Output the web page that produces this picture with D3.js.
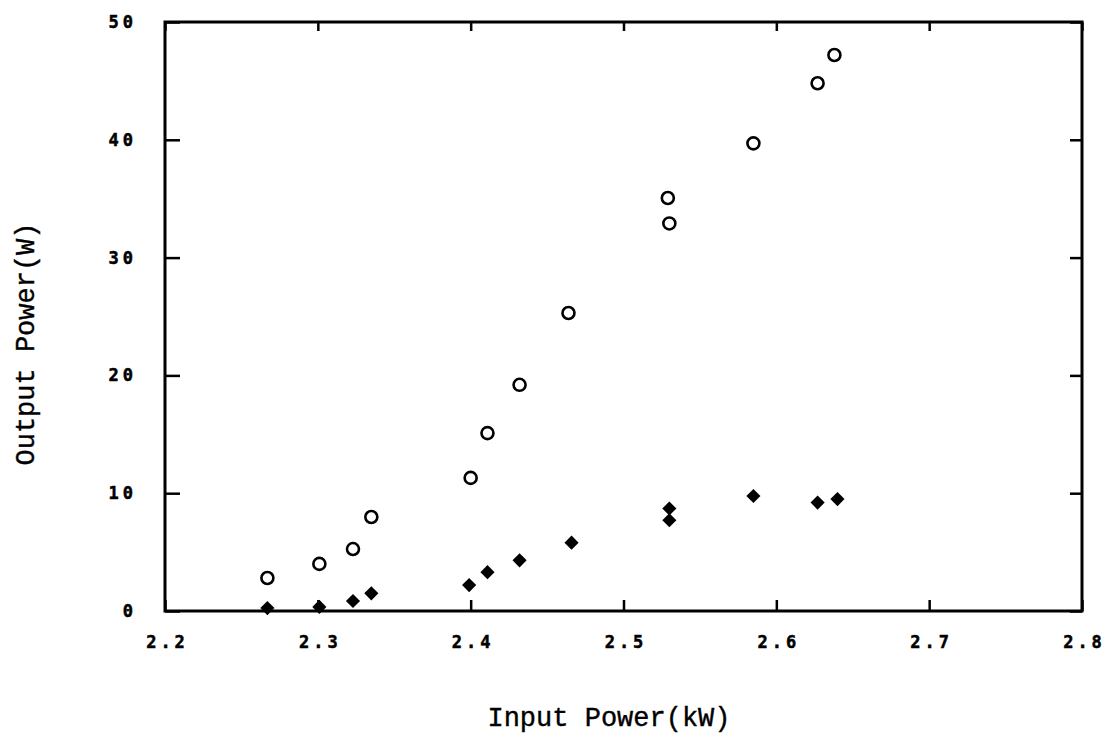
<!DOCTYPE html>
<html>
<head>
<meta charset="utf-8">
<script src="https://cdn.jsdelivr.net/npm/d3@7"></script>
<style>
  body { margin: 0; background: #fff; }
  .tick text { font-family: "DejaVu Sans Mono", monospace; font-weight: bold; font-size: 17px; letter-spacing: 4px; fill: #000; stroke: #000; stroke-width: 0.5; }
  .tick line { stroke: #000; stroke-width: 2.5; }
  .title { font-family: "Liberation Mono", "Courier New", monospace; font-size: 27px; fill: #000; stroke: #000; stroke-width: 0.4; }
</style>
</head>
<body>
<svg id="chart" width="1111" height="738"></svg>
<script>
// input power (kW) / output power (W), open circles
let open_x = [2.267, 2.301, 2.323, 2.335, 2.400, 2.411, 2.432, 2.464, 2.529, 2.530, 2.585, 2.627, 2.638]
let open_y = [2.8, 4.0, 5.26, 7.98, 11.3, 15.1, 19.2, 25.3, 35.06, 32.9, 39.7, 44.8, 47.2]

// filled diamonds
let fill_x = [2.267, 2.301, 2.323, 2.335, 2.399, 2.411, 2.432, 2.466, 2.530, 2.530, 2.585, 2.627, 2.640]
let fill_y = [0.25, 0.35, 0.85, 1.5, 2.2, 3.3, 4.3, 5.8, 8.7, 7.7, 9.76, 9.2, 9.5]

let x_ticks = [2.2, 2.3, 2.4, 2.5, 2.6, 2.7, 2.8]
let y_ticks = [0, 10, 20, 30, 40, 50]

let svg = d3.select("#chart")
let m_left = 165, m_right = 1082, m_top = 22, m_bottom = 611

var x = d3.scaleLinear().domain([2.2, 2.8]).range([m_left, m_right])
var y = d3.scaleLinear().domain([0, 50]).range([m_bottom, m_top])

// ticks on all four sides, pointing inward
svg.append("g")
    .attr("transform", "translate(0," + m_bottom + ")")
    .call(d3.axisBottom(x).tickValues(x_ticks).tickFormat(d3.format(".1f")).tickSize(-11).tickPadding(25))
    .selectAll("text").attr("dx", 2)
svg.append("g")
    .attr("transform", "translate(0," + m_top + ")")
    .call(d3.axisTop(x).tickValues(x_ticks).tickFormat("").tickSize(-9))
svg.append("g")
    .attr("transform", "translate(" + m_left + ",0)")
    .call(d3.axisLeft(y).tickValues(y_ticks).tickFormat(d3.format("d")).tickSize(-15).tickPadding(28))
svg.append("g")
    .attr("transform", "translate(" + m_right + ",0)")
    .call(d3.axisRight(y).tickValues(y_ticks).tickFormat("").tickSize(-12))

svg.selectAll(".domain").remove()

svg.append("rect")
    .attr("x", m_left).attr("y", m_top)
    .attr("width", m_right - m_left).attr("height", m_bottom - m_top)
    .attr("fill", "none").attr("stroke", "#000").attr("stroke-width", 3)

let open_data = open_x.map((d, i) => [d, open_y[i]])
let fill_data = fill_x.map((d, i) => [d, fill_y[i]])

svg.append("g").selectAll("circle")
    .data(open_data)
    .enter().append("circle")
    .attr("cx", d => x(d[0]))
    .attr("cy", d => y(d[1]))
    .attr("r", 6)
    .attr("fill", "#fff")
    .attr("stroke", "#000")
    .attr("stroke-width", 2.6)

svg.append("g").selectAll("path")
    .data(fill_data)
    .enter().append("path")
    .attr("d", d3.symbol().type(d3.symbolSquare).size(100))
    .attr("transform", d => "translate(" + x(d[0]) + "," + y(d[1]) + ") rotate(45)")
    .attr("fill", "#000")

svg.append("text")
    .attr("class", "title")
    .attr("x", 609)
    .attr("y", 726)
    .attr("text-anchor", "middle")
    .text("Input Power(kW)")

svg.append("text")
    .attr("class", "title")
    .attr("transform", "translate(34,344) rotate(-90)")
    .attr("text-anchor", "middle")
    .text("Output Power(W)")
</script>
</body>
</html>
